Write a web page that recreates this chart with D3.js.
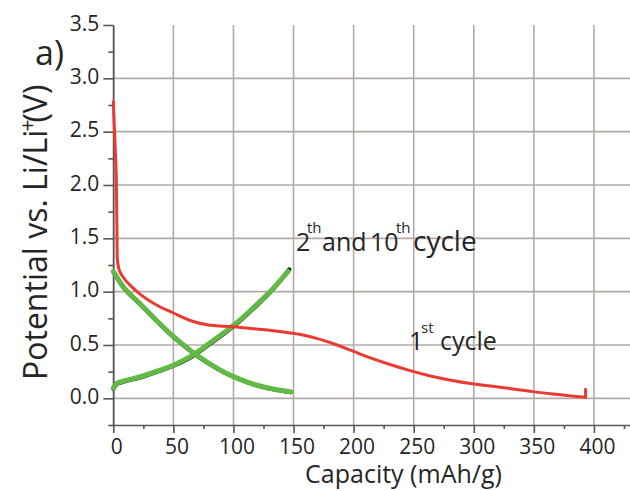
<!DOCTYPE html>
<html>
<head>
<meta charset="utf-8">
<script src="https://cdn.jsdelivr.net/npm/d3@7"></script>
<style>
  html, body { margin: 0; padding: 0; background: #fff; }
  svg { display: block; font-family: "Open Sans", sans-serif; }
</style>
</head>
<body>
<div id="chart"></div>
<script>
// ---- data ----
const xTicks = [0, 50, 100, 150, 200, 250, 300, 350, 400];
const xMinorTicks = [25, 75, 125, 175, 225, 275, 325, 375, 425];
const yTicks = [0.0, 0.5, 1.0, 1.5, 2.0, 2.5, 3.0, 3.5];
const yMinorTicks = [-0.25, 0.25, 0.75, 1.25, 1.75, 2.25, 2.75, 3.25];
const yGrid = [0.0, 0.5, 1.0, 1.5, 2.0, 2.5, 3.0];

// 1st cycle (red)
const cycle1Cap = [0, 1.4, 2.6, 3.0, 3.3, 4.5, 8, 15, 22, 36, 50, 64, 78, 100, 119, 140, 155, 170, 185, 200, 214, 231, 247, 264, 281, 297, 314, 331, 347, 364, 381, 393];
const cycle1V   = [2.78, 2.4, 2.0, 1.6, 1.32, 1.22, 1.14, 1.05, 0.98, 0.875, 0.80, 0.73, 0.69, 0.67, 0.65, 0.625, 0.60, 0.56, 0.505, 0.44, 0.38, 0.315, 0.26, 0.21, 0.17, 0.14, 0.115, 0.09, 0.066, 0.042, 0.022, 0.01];
// small end mark of the 1st cycle
const cycle1EndCap = [393, 393];
const cycle1EndV   = [0.01, 0.085];

// 2nd cycle (black) – discharge and charge
const cycle2DisCap = [0, 8, 22, 36, 50, 64, 78, 91.5, 105, 119, 133, 148];
const cycle2DisV   = [1.185, 1.045, 0.885, 0.725, 0.575, 0.445, 0.335, 0.247, 0.177, 0.122, 0.085, 0.057];
const cycle2ChCap  = [0, 3, 8, 22, 39, 50, 64, 78, 91.5, 105, 119, 133, 146.5];
const cycle2ChV    = [0.088, 0.133, 0.153, 0.193, 0.258, 0.303, 0.38, 0.49, 0.60, 0.72, 0.865, 1.023, 1.21];

// 10th cycle (green) – discharge and charge
const cycle10DisCap = [0, 8, 22, 36, 50, 64, 78, 91.5, 105, 119, 133, 148];
const cycle10DisV   = [1.19, 1.05, 0.89, 0.73, 0.58, 0.45, 0.34, 0.25, 0.18, 0.125, 0.087, 0.06];
const cycle10ChCap  = [0, 3, 8, 22, 39, 50, 64, 78, 91.5, 105, 119, 133, 145.5];
const cycle10ChV    = [0.095, 0.14, 0.16, 0.20, 0.265, 0.31, 0.39, 0.50, 0.61, 0.73, 0.875, 1.03, 1.19];

// ---- chart ----
const W = 630, H = 491;
const svg = d3.select("#chart").append("svg").attr("width", W).attr("height", H);

const x = d3.scaleLinear().domain([0, 430]).range([113.3, 630]);
const y = d3.scaleLinear().domain([-0.25, 3.5]).range([425, 25]);

const gridColor = "#b3aaa6";
const axisColor = "#5a5452";
const textColor = "#262626";

// grid
svg.append("g").selectAll("line").data(xTicks).join("line")
  .attr("x1", d => x(d)).attr("x2", d => x(d))
  .attr("y1", y(3.5)).attr("y2", y(-0.25))
  .attr("stroke", gridColor).attr("stroke-width", 1.6);
svg.append("g").selectAll("line").data(yGrid).join("line")
  .attr("x1", x(0)).attr("x2", W)
  .attr("y1", d => y(d)).attr("y2", d => y(d))
  .attr("stroke", gridColor).attr("stroke-width", 1.6);

// axes
function styleAxis(g) {
  g.select(".domain").attr("stroke", axisColor).attr("stroke-width", 1.6);
  g.selectAll(".tick line").attr("stroke", axisColor).attr("stroke-width", 1.6);
  g.selectAll(".tick text").attr("fill", textColor)
    .style("font-family", "'Open Sans', sans-serif").style("font-size", "21px");
}

const xAxis = svg.append("g").attr("transform", `translate(0,${y(-0.25)})`)
  .call(d3.axisBottom(x).tickValues(xTicks).tickSize(8).tickSizeOuter(0).tickPadding(6).tickFormat(d3.format("d")));
styleAxis(xAxis);
xAxis.selectAll(".tick text").attr("dx", 3);
const xMinor = svg.append("g").attr("transform", `translate(0,${y(-0.25)})`)
  .call(d3.axisBottom(x).tickValues(xMinorTicks).tickSize(4).tickFormat(""));
styleAxis(xMinor);
xMinor.select(".domain").remove();
xMinor.selectAll(".tick text").remove();

const yAxis = svg.append("g").attr("transform", `translate(${x(0)},0)`)
  .call(d3.axisLeft(y).tickValues(yTicks).tickSize(10).tickSizeOuter(0).tickPadding(4).tickFormat(d3.format(".1f")));
styleAxis(yAxis);
yAxis.selectAll(".tick text").attr("dy", "0.25em");
const yMinor = svg.append("g").attr("transform", `translate(${x(0)},0)`)
  .call(d3.axisLeft(y).tickValues(yMinorTicks).tickSize(5).tickFormat(""));
styleAxis(yMinor);
yMinor.select(".domain").remove();
yMinor.selectAll(".tick text").remove();

// curves
const line = d3.line().x(d => x(d[0])).y(d => y(d[1])).curve(d3.curveMonotoneX);
const lineStraight = d3.line().x(d => x(d[0])).y(d => y(d[1]));
const zip = (a, b) => a.map((v, i) => [v, b[i]]);

const curves = svg.append("g").attr("fill", "none").attr("stroke-linecap", "round").attr("stroke-linejoin", "round");
curves.append("path").attr("d", line(zip(cycle2DisCap, cycle2DisV))).attr("stroke", "#1a1a1a").attr("stroke-width", 4);
curves.append("path").attr("d", line(zip(cycle2ChCap, cycle2ChV))).attr("stroke", "#1a1a1a").attr("stroke-width", 4);
curves.append("path").attr("d", line(zip(cycle10DisCap, cycle10DisV))).attr("stroke", "#62b946").attr("stroke-width", 5);
curves.append("path").attr("d", line(zip(cycle10ChCap, cycle10ChV))).attr("stroke", "#62b946").attr("stroke-width", 5);
curves.append("path").attr("d", line(zip(cycle1Cap, cycle1V))).attr("stroke", "#ea3b32").attr("stroke-width", 3);
curves.append("path").attr("d", lineStraight(zip(cycle1EndCap, cycle1EndV))).attr("stroke", "#ea3b32").attr("stroke-width", 3);

// axis titles
svg.append("text").attr("x", 403.5).attr("y", 483).attr("text-anchor", "middle")
  .attr("fill", textColor).style("font-size", "25px").text("Capacity (mAh/g)");

const yt = svg.append("text").attr("transform", "translate(47,380) rotate(-90)")
  .attr("fill", textColor).style("font-size", "32px");
yt.append("tspan").text("Potential vs. Li/Li");
yt.append("tspan").attr("dy", "-0.55em").attr("dx", -2).style("font-size", "21px").text("+");
yt.append("tspan").attr("dy", "0.36em").attr("dx", -3).text("(V)");

svg.append("text").attr("x", 35).attr("y", 65).attr("fill", textColor)
  .style("font-size", "34px").text("a)");

// annotations (one text element each, superscripts as tspans)
const a1 = svg.append("text").attr("fill", textColor).style("font-size", "25px");
a1.append("tspan").attr("x", 296).attr("y", 251).text("2");
a1.append("tspan").attr("x", 307).attr("y", 233).style("font-size", "15px").text("th");
a1.append("tspan").attr("x", 322).attr("y", 251).text("and");
a1.append("tspan").attr("x", 370).attr("y", 251).text("10");
a1.append("tspan").attr("x", 396).attr("y", 233).style("font-size", "15px").text("th");
a1.append("tspan").attr("x", 413).attr("y", 251).style("font-size", "28px").text("cycle");

const a2 = svg.append("text").attr("fill", textColor).style("font-size", "25px");
a2.append("tspan").attr("x", 409).attr("y", 350).text("1");
a2.append("tspan").attr("x", 421).attr("y", 333).style("font-size", "15px").text("st");
a2.append("tspan").attr("x", 440).attr("y", 350).text("cycle");
</script>
</body>
</html>
